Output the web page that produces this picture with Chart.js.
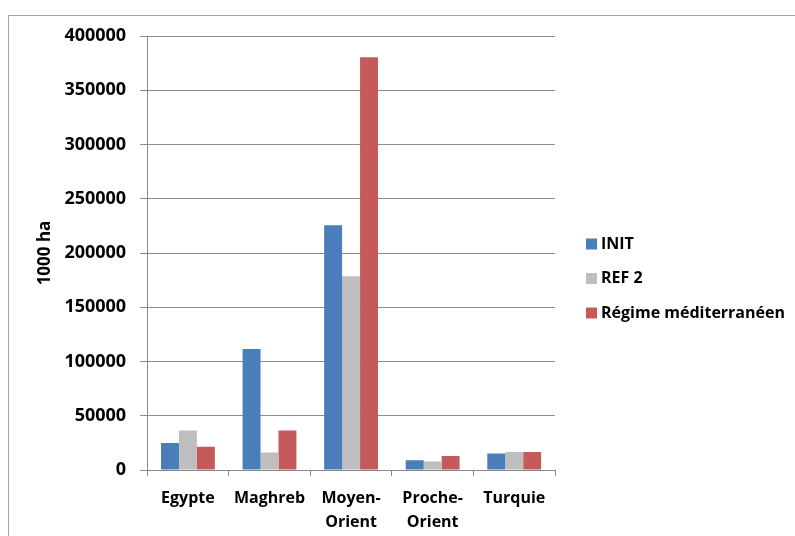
<!DOCTYPE html>
<html>
<head>
<meta charset="utf-8">
<script src="https://cdn.jsdelivr.net/npm/chart.js@4/dist/chart.umd.min.js"></script>
<style>
    body { margin: 0; background: #fff; }
    #frame { position: absolute; left: 8px; top: 15px; width: 800px; height: 530px; border: 1px solid #a6a6a6; }
    #wrap { position: absolute; left: 0; top: 0; width: 795px; height: 536px; }
</style>
</head>
<body>
<div id="frame"></div>
<div id="wrap"><canvas id="myChart" width="795" height="536"></canvas></div>
<script>
    // surfaces in 1000 ha by region
    const regions = [['Egypte'], ['Maghreb'], ['Moyen-', 'Orient'], ['Proche-', 'Orient'], ['Turquie']];
    const seriesNames = ['INIT', 'REF 2', 'Régime méditerranéen'];
    const initData = [25000, 111500, 225500, 9000, 15300];
    const ref2Data = [36500, 16200, 178500, 7900, 16500];
    const medData = [21500, 36500, 380500, 12800, 16500];
    const yTicks = [0, 50000, 100000, 150000, 200000, 250000, 300000, 350000, 400000];

    const colors = ['#4A7EBB', '#BEBEBE', '#C65A5A'];
    const FONT = 'Open Sans';

    // legend drawn to the right of the plot, one row per dataset
    const sideLegend = {
        id: 'sideLegend',
        afterDraw(chart) {
            const c = chart.ctx;
            c.save();
            c.font = 'bold 16px "' + FONT + '"';
            c.textBaseline = 'middle';
            c.textAlign = 'left';
            chart.data.datasets.forEach((ds, i) => {
                const y = 244 + i * 34.5;
                c.fillStyle = ds.backgroundColor;
                c.fillRect(586, y - 5.5, 11, 11);
                c.fillStyle = '#000';
                c.fillText(ds.label, 601, y);
            });
            c.restore();
        }
    };

    const ctx = document.getElementById('myChart').getContext('2d');
    const chart = new Chart(ctx, {
        type: 'bar',
        data: {
            labels: regions,
            datasets: [initData, ref2Data, medData].map((d, i) => ({
                label: seriesNames[i],
                data: d,
                backgroundColor: colors[i],
                borderWidth: 0,
                barPercentage: 1,
                categoryPercentage: 0.66
            }))
        },
        options: {
            responsive: false,
            animation: false,
            layout: { padding: { left: 20, top: 36, right: 240, bottom: 0 } },
            scales: {
                x: {
                    offset: true,
                    afterFit: axis => { axis.height = 66; },
                    grid: { offset: true, drawOnChartArea: false, color: '#888', tickLength: 6 },
                    border: { color: '#888' },
                    ticks: { color: '#000', font: { family: FONT, weight: 'bold', size: 16, lineHeight: 1.5 }, padding: 10, maxRotation: 0 }
                },
                y: {
                    min: 0,
                    max: 400000,
                    afterBuildTicks: axis => { axis.ticks = yTicks.map(v => ({ value: v })); },
                    grid: { color: '#8c8c8c', tickLength: 7 },
                    border: { color: '#888' },
                    ticks: { color: '#000', font: { family: FONT, weight: 'bold', size: 18 }, padding: 14, callback: v => String(v) },
                    title: { display: true, text: '1000 ha', color: '#000', font: { family: FONT, weight: 'bold', size: 17 }, padding: { top: 15, bottom: -5 } }
                }
            },
            plugins: {
                legend: { display: false },
                tooltip: { enabled: false }
            }
        },
        plugins: [sideLegend]
    });
</script>
</body>
</html>
